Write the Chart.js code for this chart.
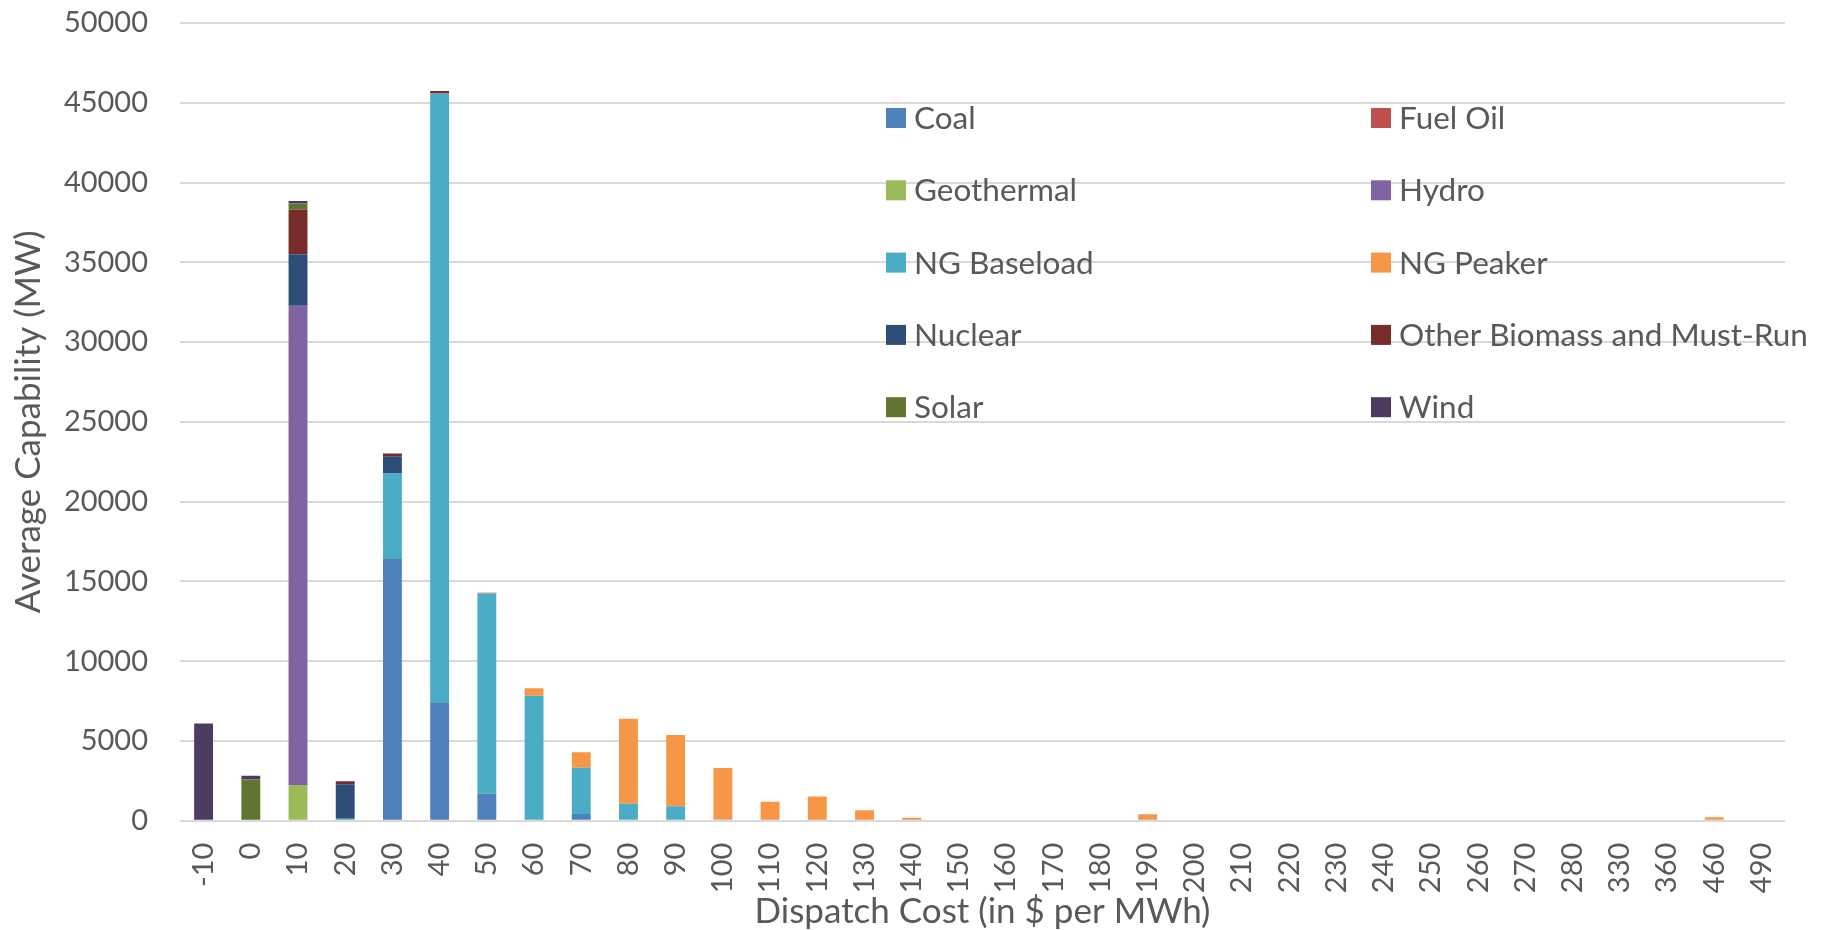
<!DOCTYPE html>
<html>
<head>
<meta charset="utf-8">
<script src="https://cdn.jsdelivr.net/npm/chart.js@4.4.0/dist/chart.umd.min.js"></script>
<style>
  html, body { margin: 0; padding: 0; background: #ffffff; }
  #wrap { width: 1824px; height: 930px; }
</style>
</head>
<body>
<div id="wrap"><canvas id="c" width="1824" height="930"></canvas></div>
<script>
// ---- Data ----
const categories = ['-10','0','10','20','30','40','50','60','70','80','90','100','110','120','130','140','150','160','170','180','190','200','210','220','230','240','250','260','270','280','330','360','460','490'];

const coal        = [0,0,0,0,16400,7370,1710,0,420,0,0,0,0,0,0,0,0,0,0,0,0,0,0,0,0,0,0,0,0,0,0,0,0,0];
const fuelOil     = [0,0,0,0,0,0,0,0,0,0,0,0,0,0,0,0,0,0,0,0,0,0,0,0,0,0,0,0,0,0,0,0,0,0];
const geothermal  = [0,0,2230,0,0,0,0,0,0,0,0,0,0,0,0,0,0,0,0,0,0,0,0,0,0,0,0,0,0,0,0,0,0,0];
const hydro       = [0,0,30040,0,0,0,0,0,0,0,0,0,0,0,0,0,0,0,0,0,0,0,0,0,0,0,0,0,0,0,0,0,0,0];
const ngBaseload  = [0,0,0,120,5370,38210,12540,7830,2900,1070,900,80,0,0,0,0,0,0,0,0,0,0,0,0,0,0,0,0,0,0,0,0,0,0];
const ngPeaker    = [0,0,0,0,0,0,60,470,970,5320,4470,3220,1180,1520,650,180,0,0,0,0,400,0,0,0,0,0,0,0,0,0,0,0,210,0];
const nuclear     = [0,0,3240,2160,1080,0,0,0,0,0,0,0,0,0,0,0,0,0,0,0,0,0,0,0,0,0,0,0,0,0,0,0,0,0];
const otherBio    = [0,0,2800,190,170,160,0,0,0,0,0,0,0,0,0,0,0,0,0,0,0,0,0,0,0,0,0,0,0,0,0,0,0,0];
const solar       = [0,2590,370,0,0,0,0,0,0,0,0,0,0,0,0,0,0,0,0,0,0,0,0,0,0,0,0,0,0,0,0,0,0,0];
const wind        = [6100,230,170,0,0,0,0,0,0,0,0,0,0,0,0,0,0,0,0,0,0,0,0,0,0,0,0,0,0,0,0,0,0,0];

const seriesNames = ['Coal','Fuel Oil','Geothermal','Hydro','NG Baseload','NG Peaker','Nuclear','Other Biomass and Must-Run','Solar','Wind'];
const seriesValues = [coal, fuelOil, geothermal, hydro, ngBaseload, ngPeaker, nuclear, otherBio, solar, wind];
const seriesColors = ['#4F81BD','#C0504D','#9BBB59','#8064A2','#4BACC6','#F79646','#2C4D75','#772C2A','#5F7530','#4D3B62'];

const yMin = 0, yMax = 50000, yStep = 5000;

// ---- Styles ----
const FONT = 'Lato, "Open Sans", sans-serif';
const TEXT = '#595959';
const GRID = '#d9d9d9';

// Legend drawn inside plot area, two columns (like the Excel original)
const insideLegend = {
  id: 'insideLegend',
  afterDatasetsDraw(chart) {
    const ctx = chart.ctx;
    ctx.save();
    ctx.font = '31.5px ' + FONT;
    ctx.textBaseline = 'middle';
    ctx.textAlign = 'left';
    chart.data.datasets.forEach((ds, i) => {
      const col = i % 2, row = Math.floor(i / 2);
      const x = col === 0 ? 886 : 1371;
      const y = 118 + row * 72.3;
      ctx.fillStyle = ds.backgroundColor;
      ctx.fillRect(x, y - 10, 20, 20);
      ctx.fillStyle = TEXT;
      ctx.fillText(ds.label, x + 28, y + 1);
    });
    ctx.restore();
  }
};

new Chart(document.getElementById('c'), {
  type: 'bar',
  data: {
    labels: categories,
    datasets: seriesNames.map((name, i) => ({
      label: name,
      data: seriesValues[i],
      backgroundColor: seriesColors[i],
      borderWidth: 0,
      categoryPercentage: 1.0,
      barPercentage: 0.4
    }))
  },
  options: {
    responsive: false,
    devicePixelRatio: 1,
    animation: false,
    layout: { padding: { top: 23, right: 39, bottom: 0, left: 0 } },
    plugins: {
      legend: { display: false },
      tooltip: { enabled: false }
    },
    scales: {
      x: {
        stacked: true,
        grid: { display: false, drawTicks: false },
        border: { display: false },
        ticks: {
          color: TEXT,
          font: { family: FONT, size: 29 },
          minRotation: 90,
          maxRotation: 90,
          autoSkip: false,
          padding: 22
        },
        title: {
          display: true,
          text: 'Dispatch Cost (in $ per MWh)',
          color: TEXT,
          font: { family: FONT, size: 35, lineHeight: 1.06 },
          padding: { top: 0, bottom: 0 }
        },
        afterFit(scale) { scale.height = 109.3; scale.paddingLeft = 0; scale.paddingRight = 0; }
      },
      y: {
        stacked: true,
        min: yMin,
        max: yMax,
        grid: { color: GRID, lineWidth: 2, drawTicks: false },
        border: { display: false },
        ticks: {
          stepSize: yStep,
          color: TEXT,
          font: { family: FONT, size: 29 },
          padding: 32,
          callback: (v) => String(v)
        },
        title: {
          display: true,
          text: 'Average Capability (MW)',
          color: TEXT,
          font: { family: FONT, size: 35, lineHeight: 1.06 },
          padding: { top: 10, bottom: 0 }
        },
        afterFit(scale) { scale.width = 180; scale.paddingTop = 0; scale.paddingBottom = 0; }
      }
    }
  },
  plugins: [insideLegend]
});
</script>
</body>
</html>
